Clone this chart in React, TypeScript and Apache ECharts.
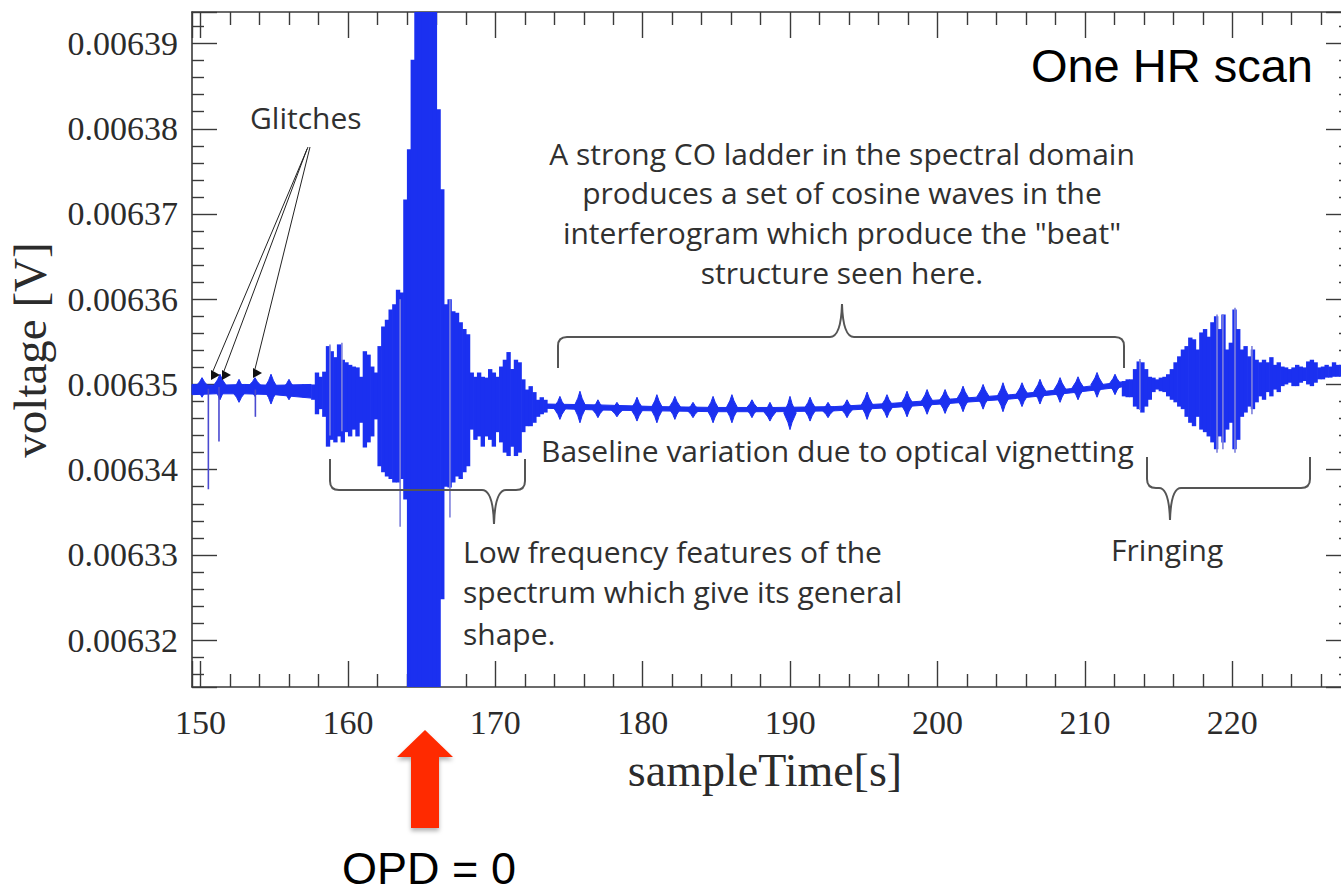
import React, { useEffect, useRef } from 'react';
import * as echarts from 'echarts';

// ---------- axis extents ----------
const X_MIN = 149.42;
const X_MAX = 228.05;
const Y_MIN = 0.0063145;
const Y_MAX = 0.0063937;

// ---------- quiet zone before the burst (glitch zone) ----------
const quietT = [149.42, 151, 153, 155, 157.5];
const quietHi = [0.00635, 0.0063499, 0.00635, 0.0063499, 0.00635];
const quietLo = [0.0063488, 0.0063489, 0.0063489, 0.0063488, 0.0063484];

const quietBeatT = [150.1, 151.32, 152.61, 153.69, 154.78, 156.0, 156.95];
const quietBeatHi = [0.0063508, 0.0063512, 0.0063506, 0.0063508, 0.0063512, 0.0063506, 0.00635];
const quietBeatLo = [0.0063485, 0.0063482, 0.0063479, 0.0063486, 0.0063477, 0.0063482, 0.0063485];

const glitchT = [150.53, 151.25, 153.72];
const glitchHi = [0.0063495, 0.0063497, 0.0063494];
const glitchLo = [0.0063377, 0.0063433, 0.0063462];

// ---------- low-frequency features + OPD=0 burst (0.25 s bins from 157.5 s) ----------
const burstStart = 157.5;
const burstStep = 0.25;
const burstHi = [
  0.00635, 0.0063514, 0.0063509, 0.0063515, 0.0063545, 0.0063539, 0.0063532, 0.0063547,
  0.0063529, 0.0063526, 0.0063523, 0.0063521, 0.006352, 0.0063509, 0.0063539, 0.0063535,
  0.0063521, 0.0063514, 0.0063545, 0.0063568, 0.0063576, 0.0063588, 0.0063594, 0.0063611,
  0.0063608, 0.0063717, 0.0063776, 0.0063881, 0.0064, 0.0064, 0.0064, 0.0064,
  0.0064, 0.0064, 0.0063823, 0.0063729, 0.0063594, 0.00636, 0.0063586, 0.0063584,
  0.0063573, 0.0063565, 0.0063559, 0.0063514, 0.0063509, 0.0063514, 0.0063509, 0.0063508,
  0.0063518, 0.0063514, 0.0063509, 0.0063521, 0.0063529, 0.0063538, 0.0063518, 0.0063529,
  0.0063526, 0.0063506, 0.0063494, 0.0063498, 0.0063491, 0.0063482, 0.0063485, 0.0063482,
];
const burstLo = [
  0.0063482, 0.0063465, 0.0063471, 0.0063462, 0.0063427, 0.0063435, 0.0063432, 0.0063439,
  0.0063432, 0.0063444, 0.0063439, 0.0063447, 0.0063439, 0.0063455, 0.0063426, 0.0063432,
  0.0063439, 0.0063459, 0.0063404, 0.0063397, 0.0063392, 0.0063389, 0.0063385, 0.0063385,
  0.0063389, 0.0063365, 0.00631, 0.00631, 0.00631, 0.00631, 0.00631, 0.00631,
  0.00631, 0.00631, 0.00631, 0.0063248, 0.006338, 0.0063379, 0.0063385, 0.0063392,
  0.0063389, 0.0063397, 0.0063404, 0.0063447, 0.0063435, 0.0063439, 0.0063427, 0.0063439,
  0.0063435, 0.0063427, 0.0063444, 0.0063432, 0.006342, 0.0063416, 0.0063427, 0.0063416,
  0.006342, 0.0063444, 0.0063451, 0.0063451, 0.0063455, 0.0063462, 0.0063465, 0.0063467,
];

// ---------- CO ladder "beat" region ----------
const ladderBaseT = [173.5, 177, 181, 185, 189, 193, 197, 201, 205, 209, 212.5];
const ladderBaseHi = [0.0063477, 0.0063476, 0.0063474, 0.0063473, 0.0063473, 0.0063474, 0.0063478, 0.0063483, 0.0063488, 0.0063495, 0.0063503];
const ladderBaseLo = [0.0063472, 0.006347, 0.0063469, 0.0063468, 0.0063468, 0.0063469, 0.0063473, 0.0063478, 0.0063483, 0.006349, 0.0063497];

const ladderBeatT = [174.38, 175.74, 176.96, 178.25, 179.61, 180.96, 182.18, 183.41, 184.77, 186.05,
  187.41, 188.63, 189.99, 191.35, 192.57, 193.86, 195.22, 196.57, 197.93, 199.29,
  200.51, 201.73, 203.09, 204.44, 205.73, 206.95, 208.31, 209.53, 210.82, 212.04];
const ladderBeatHi = [0.0063486, 0.0063492, 0.0063482, 0.0063479, 0.0063485, 0.0063488, 0.0063486, 0.0063479, 0.0063486, 0.0063488,
  0.0063482, 0.0063479, 0.0063486, 0.0063485, 0.0063479, 0.0063482, 0.0063491, 0.0063488, 0.0063492, 0.0063494,
  0.0063494, 0.0063498, 0.00635, 0.0063502, 0.0063502, 0.0063506, 0.0063508, 0.0063509, 0.0063514, 0.0063512];
const ladderBeatLo = [0.0063459, 0.0063455, 0.0063461, 0.0063462, 0.0063457, 0.0063455, 0.0063459, 0.0063461, 0.0063455, 0.0063455,
  0.0063461, 0.0063457, 0.0063447, 0.0063457, 0.0063461, 0.0063461, 0.0063459, 0.0063461, 0.0063462, 0.0063465,
  0.0063466, 0.0063468, 0.0063471, 0.0063468, 0.0063474, 0.0063477, 0.0063479, 0.0063482, 0.0063485, 0.0063488];

// ---------- fringing region (0.25 s bins from 212.5 s) ----------
const fringeStart = 212.5;
const fringeStep = 0.25;
const fringeHi = [
  0.0063504, 0.0063506, 0.0063506, 0.0063518, 0.0063527, 0.0063526, 0.0063518, 0.0063509,
  0.0063508, 0.0063506, 0.0063508, 0.0063509, 0.0063512, 0.0063518, 0.0063526, 0.0063533,
  0.0063541, 0.0063545, 0.0063555, 0.0063553, 0.0063541, 0.0063561, 0.0063565, 0.0063556,
  0.0063573, 0.006358, 0.0063565, 0.0063582, 0.0063541, 0.0063549, 0.0063588, 0.0063565,
  0.0063541, 0.0063545, 0.0063533, 0.0063541, 0.0063529, 0.0063526, 0.0063529, 0.0063526,
  0.0063532, 0.0063523, 0.0063526, 0.0063521, 0.006352, 0.0063518, 0.006352, 0.0063523,
  0.0063521, 0.006352, 0.0063527, 0.0063529, 0.0063526, 0.006352, 0.0063521, 0.0063523,
  0.0063521, 0.0063526, 0.0063523, 0.0063523, 0.0063526, 0.0063523,
];
const fringeLo = [
  0.0063486, 0.0063485, 0.0063485, 0.0063474, 0.0063471, 0.0063467, 0.0063474, 0.0063482,
  0.0063491, 0.0063494, 0.0063492, 0.0063491, 0.0063486, 0.0063482, 0.0063479, 0.0063474,
  0.0063471, 0.0063462, 0.0063455, 0.0063451, 0.0063462, 0.0063447, 0.0063444, 0.0063439,
  0.0063432, 0.0063424, 0.0063439, 0.0063432, 0.0063447, 0.0063455, 0.0063424, 0.0063435,
  0.0063462, 0.0063467, 0.0063474, 0.0063471, 0.0063479, 0.0063486, 0.0063482, 0.0063491,
  0.0063486, 0.0063494, 0.0063491, 0.0063498, 0.00635, 0.0063502, 0.0063498, 0.0063498,
  0.0063502, 0.0063504, 0.00635, 0.0063498, 0.0063502, 0.0063506, 0.0063506, 0.0063508,
  0.0063508, 0.0063509, 0.0063509, 0.0063509, 0.0063508, 0.0063509,
];

// ---------- light (anti-aliased) spikes ----------
const spikeT = [158.78, 159.59, 163.54, 166.92, 213.73, 218.96, 219.36, 220.18, 221.33];
const spikeHi = [0.0063547, 0.0063549, 0.00636, 0.00636, 0.006353, 0.0063582, 0.0063582, 0.006359, 0.0063545];
const spikeLo = [0.006344, 0.0063445, 0.0063333, 0.0063344, 0.006347, 0.006342, 0.0063424, 0.006342, 0.0063465];

const BLUE = '#1b30f0';
const LIGHT = '#7d80dc';
const AXIS = '#3a3a3a';
const ANNO = '#303030';
const ANNO_FONT = '30px "Open Sans"';

echarts.graphic.registerShape('bracketTop', echarts.graphic.extendPath(
  'M558,368 L558,346 Q558,337 567,337 L830,337 Q841,337 842,304 Q843,337 854,337 L1115,337 Q1124,337 1124,346 L1124,368', {}));
echarts.graphic.registerShape('bracketLow', echarts.graphic.extendPath(
  'M330,459 L330,481 Q330,490 339,490 L482,490 Q493,490 494,524 Q495,490 506,490 L516,490 Q525,490 525,481 L525,459', {}));
echarts.graphic.registerShape('bracketFringe', echarts.graphic.extendPath(
  'M1147,457 L1147,479 Q1147,488 1156,488 L1159,488 Q1169,488 1170,520 Q1171,488 1181,488 L1301,488 Q1310,488 1310,479 L1310,457', {}));

function clipRect(r: any, cs: any) {
  return echarts.graphic.clipRectByRect(r, { x: cs.x, y: cs.y, width: cs.width, height: cs.height });
}

const bandItem = (params: any, api: any) => {
  const a = api.coord([api.value(0), api.value(1)]);
  const b = api.coord([api.value(3), api.value(4)]);
  const c = api.coord([api.value(3), api.value(5)]);
  const d = api.coord([api.value(0), api.value(2)]);
  return { type: 'polygon', shape: { points: [a, b, c, d] }, style: { fill: BLUE, stroke: BLUE, lineWidth: 1 } };
};

const binItem = (params: any, api: any) => {
  const p0 = api.coord([api.value(0), api.value(3)]);
  const p1 = api.coord([api.value(1), api.value(2)]);
  const shape = clipRect({ x: p0[0], y: p0[1], width: p1[0] - p0[0] + 0.7, height: p1[1] - p0[1] }, params.coordSys);
  if (!shape) return null;
  return { type: 'rect', shape, style: { fill: BLUE } };
};

const beatItem = (params: any, api: any) => {
  const t = api.value(0);
  const hw = api.value(3);
  const top = api.coord([t, api.value(1)]);
  const bot = api.coord([t, api.value(2)]);
  const l = api.coord([t - hw, api.value(1)])[0];
  const r = api.coord([t + hw, api.value(1)])[0];
  const mid = (top[1] + bot[1]) / 2;
  const q = (bot[1] - top[1]) * 0.22;
  const k = (r - l) * 0.17;
  return {
    type: 'polygon',
    shape: {
      points: [[l, mid], [top[0] - k, top[1] + q], top, [top[0] + k, top[1] + q], [r, mid],
        [bot[0] + k, bot[1] - q], bot, [bot[0] - k, bot[1] - q]],
    },
    style: { fill: BLUE, stroke: BLUE, lineWidth: 1 },
  };
};

const makeLineItem = (color: string, width: number) => (params: any, api: any) => {
  const a = api.coord([api.value(0), api.value(1)]);
  const b = api.coord([api.value(0), api.value(2)]);
  return { type: 'line', shape: { x1: a[0], y1: a[1], x2: b[0], y2: b[1] }, style: { stroke: color, lineWidth: width } };
};

function segments(t: number[], hi: number[], lo: number[]) {
  const out: number[][] = [];
  for (let i = 0; i < t.length - 1; i++) out.push([t[i], hi[i], lo[i], t[i + 1], hi[i + 1], lo[i + 1]]);
  return out;
}
function bins(start: number, step: number, hi: number[], lo: number[]) {
  return hi.map((h, i) => [start + i * step, start + (i + 1) * step, lo[i], h]);
}

const axisLabelFont = { fontFamily: 'Liberation Serif', fontSize: 34, color: '#2b2b2b' };

export default function App() {
  const ref = useRef<HTMLDivElement>(null);
  useEffect(() => {
    if (!ref.current) return;
    const chart = echarts.init(ref.current, undefined, { renderer: 'svg' });

    const xCommon: any = {
      type: 'value', min: X_MIN, max: X_MAX, splitNumber: 8,
      axisLine: { show: true, onZero: false, lineStyle: { color: AXIS, width: 1.6 } },
      axisTick: { show: true, inside: true, length: 26, lineStyle: { color: AXIS, width: 1.4 } },
      minorTick: { show: true, splitNumber: 5, length: 13, lineStyle: { color: AXIS, width: 1.4 } },
      splitLine: { show: false },
    };
    const yCommon: any = {
      type: 'value', min: Y_MIN, max: Y_MAX, splitNumber: 8,
      axisLine: { show: true, onZero: false, lineStyle: { color: AXIS, width: 1.6 } },
      axisTick: { show: true, inside: true, length: 25, lineStyle: { color: AXIS, width: 1.4 } },
      minorTick: { show: true, splitNumber: 5, length: 12, lineStyle: { color: AXIS, width: 1.4 } },
      splitLine: { show: false },
    };

    const texts: any[] = [
      { x: 250, y: 117, text: 'Glitches', align: 'left' },
      { x: 842, y: 153, text: 'A strong CO ladder in the spectral domain', align: 'center' },
      { x: 842, y: 192, text: 'produces a set of cosine waves in the', align: 'center' },
      { x: 842, y: 232, text: 'interferogram which produce the "beat"', align: 'center' },
      { x: 842, y: 272, text: 'structure seen here.', align: 'center' },
      { x: 541, y: 450, text: 'Baseline variation due to optical vignetting', align: 'left' },
      { x: 463, y: 551, text: 'Low frequency features of the', align: 'left' },
      { x: 463, y: 591, text: 'spectrum which give its general', align: 'left' },
      { x: 463, y: 633, text: 'shape.', align: 'left' },
      { x: 1111, y: 549, text: 'Fringing', align: 'left' },
    ].map((d) => ({
      type: 'text', x: d.x, y: d.y, z: 20,
      style: { text: d.text, font: ANNO_FONT, fill: ANNO, textAlign: d.align, textVerticalAlign: 'middle' },
    }));

    const glitchLines = [[308, 147, 213, 371], [307, 149, 224, 371], [310, 147, 255, 369]].map((l) => ({
      type: 'line', z: 20, shape: { x1: l[0], y1: l[1], x2: l[2], y2: l[3] }, style: { stroke: '#222', lineWidth: 1 },
    }));
    const heads = [[215, 375], [226, 375], [257, 373]].map((p) => ({
      type: 'polygon', z: 20,
      shape: { points: [[p[0] - 4, p[1] - 5], [p[0] + 5, p[1]], [p[0] - 4, p[1] + 5]] },
      style: { fill: '#111' },
    }));
    const brackets = ['bracketTop', 'bracketLow', 'bracketFringe'].map((t) => ({
      type: t, x: 0, y: 0, z: 20, style: { fill: 'none', stroke: '#555', lineWidth: 2 },
    }));

    chart.setOption({
      animation: false,
      backgroundColor: '#ffffff',
      grid: { left: 192, top: 12, right: 0, bottom: 208, containLabel: false },
      xAxis: [
        { ...xCommon, position: 'bottom', axisLabel: { ...axisLabelFont, margin: 18, showMinLabel: false, showMaxLabel: false } },
        { ...xCommon, position: 'top', axisLabel: { show: false } },
      ],
      yAxis: [
        { ...yCommon, position: 'left', axisLabel: { ...axisLabelFont, margin: 14, showMinLabel: false, showMaxLabel: false } },
        { ...yCommon, position: 'right', axisLabel: { show: false } },
      ],
      series: [
        { type: 'custom', name: 'quiet baseline', silent: true, z: 2, renderItem: bandItem, encode: { x: 0, y: 1 },
          data: segments(quietT, quietHi, quietLo) },
        { type: 'custom', name: 'ladder baseline', silent: true, z: 2, renderItem: bandItem, encode: { x: 0, y: 1 },
          data: segments(ladderBaseT, ladderBaseHi, ladderBaseLo) },
        { type: 'custom', name: 'quiet beats', silent: true, z: 3, renderItem: beatItem, encode: { x: 0, y: 1 },
          data: quietBeatT.map((t, i) => [t, quietBeatHi[i], quietBeatLo[i], 0.5]) },
        { type: 'custom', name: 'ladder beats', silent: true, z: 3, renderItem: beatItem, encode: { x: 0, y: 1 },
          data: ladderBeatT.map((t, i) => [t, ladderBeatHi[i], ladderBeatLo[i], 0.42]) },
        { type: 'custom', name: 'burst', silent: true, z: 3, renderItem: binItem, encode: { x: 0, y: 3 },
          data: bins(burstStart, burstStep, burstHi, burstLo) },
        { type: 'custom', name: 'fringing', silent: true, z: 3, renderItem: binItem, encode: { x: 0, y: 3 },
          data: bins(fringeStart, fringeStep, fringeHi, fringeLo) },
        { type: 'custom', name: 'spikes', silent: true, z: 4, renderItem: makeLineItem(LIGHT, 1.6), encode: { x: 0, y: 1 },
          data: spikeT.map((t, i) => [t, spikeHi[i], spikeLo[i]]) },
        { type: 'custom', name: 'glitches', silent: true, z: 4, renderItem: makeLineItem('#4a4ad0', 1.6), encode: { x: 0, y: 1 },
          data: glitchT.map((t, i) => [t, glitchHi[i], glitchLo[i]]) },
      ],
      graphic: [
        ...texts,
        ...glitchLines,
        ...heads,
        ...brackets,
        { type: 'text', x: 1313, y: 65, z: 20,
          style: { text: 'One HR scan', font: '47px "Liberation Sans"', fill: '#000', textAlign: 'right', textVerticalAlign: 'middle' } },
        { type: 'text', x: 765, y: 770, z: 20,
          style: { text: 'sampleTime[s]', font: '46px "Liberation Serif"', fill: '#2b2b2b', textAlign: 'center', textVerticalAlign: 'middle' } },
        { type: 'text', x: 30, y: 350, rotation: Math.PI / 2, z: 20,
          style: { text: 'voltage [V]', font: '47px "Liberation Serif"', fill: '#2b2b2b', textAlign: 'center', textVerticalAlign: 'middle' } },
        { type: 'polygon', z: 20,
          shape: { points: [[425, 730], [453, 757], [439, 757], [439, 828], [411, 828], [411, 757], [397, 757]] },
          style: { fill: '#ff2a00', shadowBlur: 4, shadowOffsetY: 3, shadowColor: 'rgba(0,0,0,0.3)' } },
        { type: 'text', x: 429, y: 868, z: 20,
          style: { text: 'OPD = 0', font: '45px "Liberation Sans"', fill: '#000', textAlign: 'center', textVerticalAlign: 'middle' } },
      ],
    });
    return () => chart.dispose();
  }, []);

  return (
    <div style={{ position: 'fixed', left: 0, top: 0, width: 1341, height: 895, overflow: 'hidden', background: '#fff' }}>
      <div ref={ref} style={{ width: 1351, height: 895 }} />
    </div>
  );
}
